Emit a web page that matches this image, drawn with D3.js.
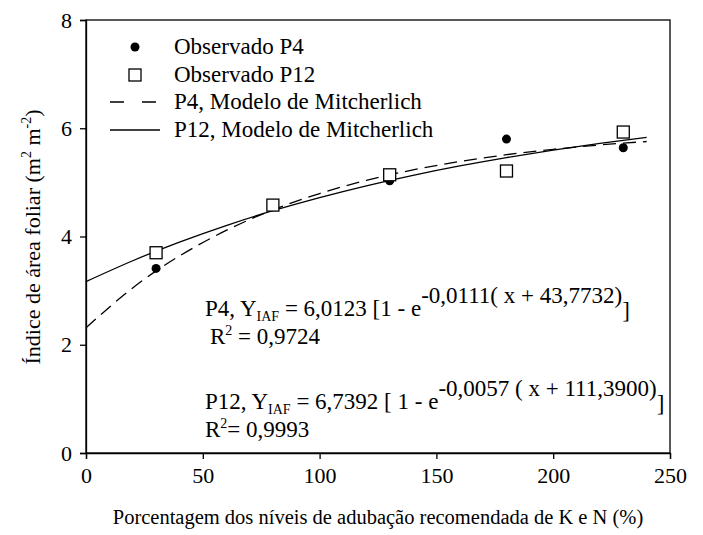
<!DOCTYPE html>
<html><head><meta charset="utf-8">
<script src="https://cdn.jsdelivr.net/npm/d3@7"></script>
<style>body{margin:0;background:#fff}svg{display:block}text{font-family:"Liberation Serif","Times New Roman",serif;fill:#000}</style>
</head><body><svg id="c" width="703" height="535"></svg>
<script>
const obsX = [30, 80, 130, 180, 230];
const obsP4 = [3.41, 4.55, 5.03, 5.80, 5.64];
const obsP12 = [3.70, 4.58, 5.14, 5.21, 5.93];
const fitX = [0, 20, 40, 60, 80, 100, 120, 140, 160, 180, 200, 220, 240];
const fitP4 = [2.314, 3.050, 3.640, 4.112, 4.491, 4.794, 5.036, 5.231, 5.386, 5.511, 5.611, 5.691, 5.755];
const fitP12 = [3.167, 3.552, 3.896, 4.202, 4.476, 4.719, 4.937, 5.131, 5.304, 5.459, 5.597, 5.720, 5.830];
const xTicks = [0, 50, 100, 150, 200, 250];
const yTicks = [0, 2, 4, 6, 8];
const legendLabels = ["Observado P4", "Observado P12", "P4, Modelo de Mitcherlich", "P12, Modelo de Mitcherlich"];

const svg = d3.select("#c");
const L = 86, R = 670, T = 20, B = 453;
const x = d3.scaleLinear().domain([0, 250]).range([L, R]);
const y = d3.scaleLinear().domain([0, 8]).range([B, T]);
const FS = 22, LFS = 23, EFS = 23;

// frame
svg.append("rect").attr("x", L).attr("y", T).attr("width", R - L).attr("height", B - T)
  .attr("fill", "none").attr("stroke", "#000").attr("stroke-width", 1.3);

const xa = svg.append("g").attr("transform", `translate(0,${B})`)
  .call(d3.axisBottom(x).tickValues(xTicks).tickSize(6).tickPadding(8).tickFormat(d3.format("d")));
const ya = svg.append("g").attr("transform", `translate(${L},0)`)
  .call(d3.axisLeft(y).tickValues(yTicks).tickSize(6).tickPadding(8).tickFormat(d3.format("d")));
[xa, ya].forEach(a => {
  a.select(".domain").attr("stroke", "#000").attr("stroke-width", 1.3);
  a.selectAll(".tick line").attr("stroke", "#000").attr("stroke-width", 1.3);
  a.selectAll(".tick text").attr("font-family", '"Liberation Serif",serif').attr("font-size", FS).attr("fill", "#000");
});

// curves
const line = d3.line().curve(d3.curveNatural);
const ptsP4 = fitX.map((v, i) => [x(v), y(fitP4[i])]);
const ptsP12 = fitX.map((v, i) => [x(v), y(fitP12[i])]);
svg.append("path").attr("d", line(ptsP12)).attr("fill", "none").attr("stroke", "#000").attr("stroke-width", 1.3);
svg.append("path").attr("d", line(ptsP4)).attr("fill", "none").attr("stroke", "#000").attr("stroke-width", 1.3)
  .attr("stroke-dasharray", "13,7");

// points
svg.selectAll(".p4").data(obsX).enter().append("circle")
  .attr("cx", d => x(d)).attr("cy", (d, i) => y(obsP4[i])).attr("r", 4.5).attr("fill", "#000");
svg.selectAll(".p12").data(obsX).enter().append("rect")
  .attr("x", d => x(d) - 6).attr("y", (d, i) => y(obsP12[i]) - 6).attr("width", 12).attr("height", 12)
  .attr("fill", "#fff").attr("stroke", "#000").attr("stroke-width", 1.3);

// legend
const lg = svg.append("g");
const rowY = [47, 75, 102, 130];
legendLabels.forEach((t, i) => {
  lg.append("text").attr("x", 174).attr("y", rowY[i] + 7).attr("font-size", LFS).text(t);
});
lg.append("circle").attr("cx", 135).attr("cy", rowY[0]).attr("r", 4.5).attr("fill", "#000");
lg.append("rect").attr("x", 129).attr("y", rowY[1] - 6).attr("width", 12).attr("height", 12)
  .attr("fill", "#fff").attr("stroke", "#000").attr("stroke-width", 1.3);
lg.append("line").attr("x1", 110).attr("x2", 160).attr("y1", rowY[2]).attr("y2", rowY[2])
  .attr("stroke", "#000").attr("stroke-width", 1.3).attr("stroke-dasharray", "14,18");
lg.append("line").attr("x1", 110).attr("x2", 160).attr("y1", rowY[3]).attr("y2", rowY[3])
  .attr("stroke", "#000").attr("stroke-width", 1.3);

// equations
function eq(xp, yp, parts) {
  const t = svg.append("text").attr("x", xp).attr("y", yp).attr("font-size", EFS);
  parts.forEach(p => {
    const s = t.append("tspan").text(p.t);
    if (p.size) s.attr("font-size", p.size);
    if (p.dy) s.attr("dy", p.dy);
  });
}
eq(205, 316, [{t: "P4, Y"}, {t: "IAF", size: 14, dy: 5}, {t: " = 6,0123 [1 - e", dy: -5}, {t: "-0,0111( x + 43,7732)", dy: -13}, {t: "]", dy: 15}]);
eq(210, 344, [{t: "R"}, {t: "2", size: 14, dy: -9}, {t: " = 0,9724", dy: 9}]);
eq(205, 409, [{t: "P12, Y"}, {t: "IAF", size: 14, dy: 5}, {t: " = 6,7392 [ 1 - e", dy: -5}, {t: "-0,0057 ( x + 111,3900)", dy: -13}, {t: "]", dy: 15}]);
eq(205, 437, [{t: "R"}, {t: "2", size: 14, dy: -9}, {t: "= 0,9993", dy: 9}]);

// axis titles
svg.append("text").attr("x", 378).attr("y", 524).attr("text-anchor", "middle").attr("font-size", 20.5)
  .text("Porcentagem dos níveis de adubação recomendada de K e N (%)");
const yt = svg.append("text").attr("transform", "translate(40,237) rotate(-90)").attr("text-anchor", "middle").attr("font-size", FS);
yt.append("tspan").text("Índice de área foliar (m");
yt.append("tspan").text("2").attr("font-size", 14).attr("dy", -9);
yt.append("tspan").text(" m").attr("dy", 9);
yt.append("tspan").text("-2").attr("font-size", 14).attr("dy", -9);
yt.append("tspan").text(")").attr("dy", 9);
</script></body></html>
